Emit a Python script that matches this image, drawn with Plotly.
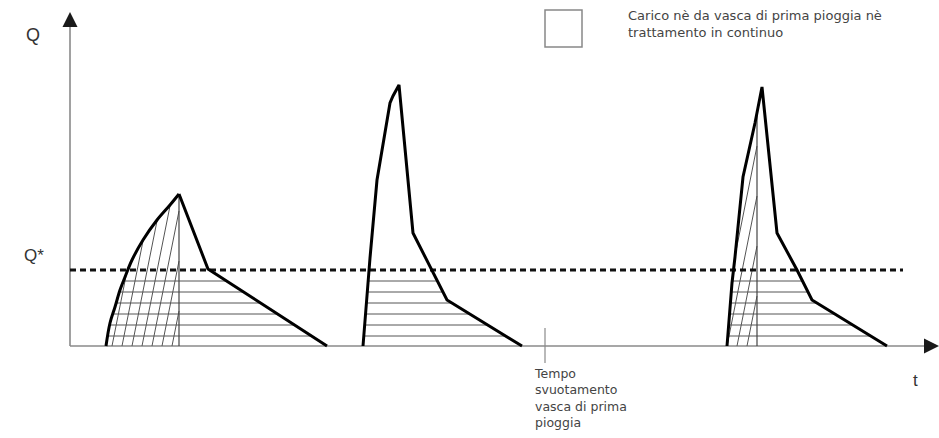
import numpy as np
import plotly.graph_objects as go

# ---------------- data (t: time units from origin, q: flow units above baseline) ----------------
h1_rise_t = [36, 40, 45, 50, 55, 62, 73, 87, 100, 109]
h1_rise_q = [0, 23, 39, 56, 69, 86, 106, 126, 141, 152]
h1_fall_t = [109, 138, 257]
h1_fall_q = [152, 77, 0]
h1_split_t = 109

h2_rise_t = [293, 300, 307, 320, 323, 329]
h2_rise_q = [0, 88, 166, 243, 250, 261]
h2_fall_t = [329, 343, 348, 377, 452]
h2_fall_q = [261, 113, 103, 46, 0]

h3_rise_t = [657, 662, 665, 673, 685, 692]
h3_rise_q = [0, 63, 89, 169, 223, 259]
h3_fall_t = [692, 707, 727, 742, 817]
h3_fall_q = [259, 113, 76, 46, 0]
h3_split_t = 687

q_star = 76
q_star_end_t = 833
t_empty = 475
t_axis_end = 869
q_axis_end = 334

hatch_levels = [10, 21, 32, 43, 54, 65]
h1_diag_starts = [42, 52, 62, 72, 82, 92, 102]
h3_diag_starts = [647, 657, 667, 677]

legend_text = "Carico nè da vasca di prima pioggia nè<br>trattamento in continuo"
empty_text = "Tempo<br>svuotamento<br>vasca di prima<br>pioggia"

# ---------------- styles ----------------
AX = "#8a8a8a"
HATCH = "#555555"
TXT = "#333333"
FONT = "Liberation Sans, Arial, sans-serif"
SMALL = "DejaVu Sans, sans-serif"

fig = go.Figure()


def add_line(x, y, color, width, dash=None, shape="linear"):
    fig.add_trace(go.Scatter(x=x, y=y, mode="lines", hoverinfo="skip",
                             line=dict(color=color, width=width, dash=dash, shape=shape),
                             showlegend=False))


def horiz_hatch(rt, rq, ft, fq):
    xs, ys = [], []
    for lv in hatch_levels:
        xl = np.interp(lv, rq, rt)
        xr = np.interp(lv, fq[::-1], ft[::-1])
        xs += [xl, xr, None]
        ys += [lv, lv, None]
    add_line(xs, ys, HATCH, 1)


def diag_hatch(rt, rq, split_t, starts, k):
    qtop = np.interp(split_t, rt, rq)
    qq = np.linspace(0, qtop, 2000)
    xl = np.interp(qq, rq, rt)
    xs, ys = [], []
    for x0 in starts:
        x = x0 + k * qq
        inside = (x >= xl) & (x <= split_t)
        idx = np.where(inside)[0]
        if len(idx) < 2:
            continue
        xs += [x[idx[0]], x[idx[-1]], None]
        ys += [qq[idx[0]], qq[idx[-1]], None]
    add_line(xs, ys, HATCH, 1)
    add_line([split_t, split_t], [0, qtop], "#444444", 1.2)


# axes lines
add_line([0, 0], [0, q_axis_end - 8], AX, 1.6)
add_line([0, t_axis_end - 8], [0, 0], AX, 1.6)

# hatching
horiz_hatch(h1_rise_t, h1_rise_q, h1_fall_t, h1_fall_q)
horiz_hatch(h2_rise_t, h2_rise_q, h2_fall_t, h2_fall_q)
horiz_hatch(h3_rise_t, h3_rise_q, h3_fall_t, h3_fall_q)
diag_hatch(h1_rise_t, h1_rise_q, h1_split_t, h1_diag_starts, 0.2)
diag_hatch(h3_rise_t, h3_rise_q, h3_split_t, h3_diag_starts, 0.2)

# Q* threshold
add_line([0, q_star_end_t], [q_star, q_star], "#111111", 3.2, "6px,4px")

# hydrographs
add_line(h1_rise_t, h1_rise_q, "#000000", 3, shape="spline")
add_line(h1_fall_t, h1_fall_q, "#000000", 3)
for rt, rq, ft, fq in [(h2_rise_t, h2_rise_q, h2_fall_t, h2_fall_q),
                       (h3_rise_t, h3_rise_q, h3_fall_t, h3_fall_q)]:
    add_line(rt + ft[1:], rq + fq[1:], "#000000", 3)

# emptying-time tick
add_line([t_empty, t_empty], [18, -17], AX, 1.2)

# arrowheads at the axis ends
fig.add_trace(go.Scatter(x=[0, t_axis_end], y=[q_axis_end, 0], mode="markers",
                         hoverinfo="skip", showlegend=False, cliponaxis=False,
                         marker=dict(symbol=["arrow-up", "arrow-right"], size=15,
                                     color="#1a1a1a", line=dict(width=0))))

ann = [
    dict(x=-37, y=311, text="Q", showarrow=False, xref="x", yref="y",
         font=dict(family=FONT, size=18, color=TXT)),
    dict(x=-36, y=91, text="Q*", showarrow=False, xref="x", yref="y",
         font=dict(family=FONT, size=17, color=TXT)),
    dict(x=845, y=-34, text="t", showarrow=False, xref="x", yref="y",
         font=dict(family=FONT, size=17, color=TXT)),
    dict(x=462, y=-18, text=empty_text, showarrow=False, xref="x", yref="y",
         xanchor="left", yanchor="top", align="left",
         font=dict(family=SMALL, size=12.5, color="#444444")),
    dict(x=556, y=346 - 6, text=legend_text, showarrow=False, xref="x", yref="y",
         xanchor="left", yanchor="top", align="left",
         font=dict(family=SMALL, size=13, color="#444444")),
]

fig.update_layout(
    width=939, height=438,
    margin=dict(l=0, r=0, t=0, b=0),
    paper_bgcolor="white", plot_bgcolor="white",
    xaxis=dict(range=[-70, 869], visible=False, fixedrange=True),
    yaxis=dict(range=[-92, 346], visible=False, fixedrange=True),
    annotations=ann,
    shapes=[dict(type="rect", xref="x", yref="y", x0=475, x1=512, y0=336, y1=299,
                 line=dict(color="#888888", width=1.5), fillcolor="white")],
    showlegend=False,
)

fig.write_html("out.html", config={"displayModeBar": False},
               post_script="document.body.style.margin='0px';document.body.style.overflow='hidden';")
